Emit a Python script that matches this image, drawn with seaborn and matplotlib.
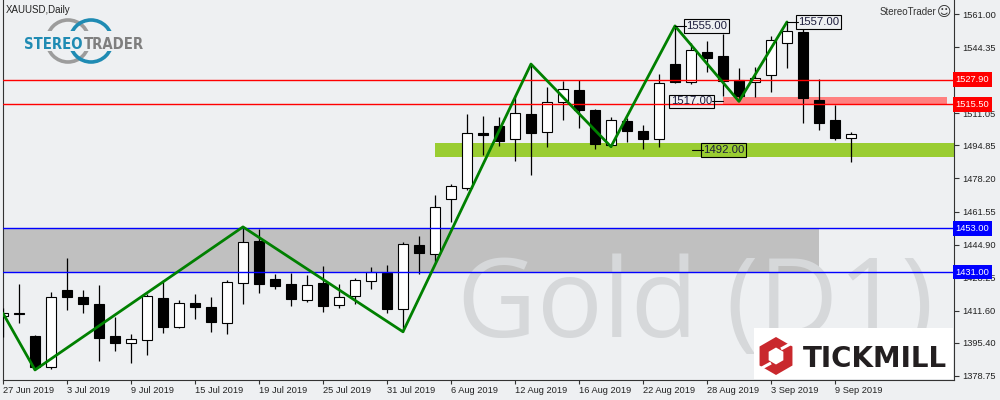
import matplotlib
matplotlib.use("Agg")
import matplotlib.pyplot as plt
import matplotlib.transforms as mtransforms
from matplotlib.patches import Rectangle, Circle, RegularPolygon
from matplotlib import font_manager
from matplotlib.font_manager import FontProperties
import numpy as np
import pandas as pd
import seaborn as sns

# ---------------- data ----------------
tick_idx = [0, 4, 8, 12, 16, 20, 24, 28, 32, 36, 40, 44, 48, 52]
tick_labels = ["27 Jun 2019", "3 Jul 2019", "9 Jul 2019", "15 Jul 2019", "19 Jul 2019",
               "25 Jul 2019", "31 Jul 2019", "6 Aug 2019", "12 Aug 2019", "16 Aug 2019",
               "22 Aug 2019", "28 Aug 2019", "3 Sep 2019", "9 Sep 2019"]

opens = [1409.1, 1410.4, 1398.9, 1383.1, 1422.0, 1418.4, 1415.0, 1398.9, 1395.2, 1396.7,
         1417.9, 1403.3, 1415.6, 1413.3, 1405.3, 1425.4, 1446.9, 1427.6, 1425.1, 1416.8,
         1425.6, 1414.3, 1418.9, 1426.4, 1430.7, 1412.3, 1444.7, 1440.0, 1467.7, 1473.2,
         1501.0, 1504.6, 1497.9, 1510.7, 1501.4, 1516.5, 1522.7, 1512.7, 1495.2, 1507.3,
         1502.1, 1497.9, 1535.8, 1526.9, 1541.9, 1539.9, 1527.8, 1526.6, 1530.1, 1546.2,
         1551.8, 1517.7, 1507.6, 1498.4]
highs = [1413.0, 1425.1, 1399.2, 1420.9, 1438.1, 1422.0, 1424.6, 1408.3, 1399.9, 1420.0,
         1427.1, 1417.0, 1420.0, 1418.7, 1427.1, 1453.8, 1452.5, 1430.1, 1430.7, 1429.6,
         1434.1, 1424.9, 1427.9, 1433.8, 1434.6, 1446.1, 1449.2, 1469.9, 1475.4, 1510.7,
         1509.6, 1509.3, 1520.2, 1535.8, 1524.4, 1527.3, 1527.8, 1513.2, 1509.3, 1508.8,
         1505.1, 1530.8, 1555.0, 1546.2, 1547.4, 1550.9, 1534.0, 1534.2, 1549.9, 1557.0,
         1553.4, 1528.1, 1515.2, 1501.6]
lows = [1398.4, 1405.6, 1381.8, 1382.5, 1412.0, 1410.3, 1386.4, 1391.5, 1385.4, 1389.3,
        1400.5, 1402.8, 1407.4, 1401.0, 1399.9, 1414.8, 1420.4, 1422.4, 1414.1, 1416.1,
        1411.1, 1413.1, 1414.8, 1422.4, 1410.3, 1401.0, 1430.1, 1436.3, 1456.4, 1472.4,
        1490.0, 1494.5, 1487.1, 1479.9, 1494.2, 1507.6, 1503.8, 1493.0, 1494.2, 1496.7,
        1492.9, 1493.9, 1526.5, 1525.8, 1532.0, 1519.7, 1517.0, 1519.4, 1521.9, 1534.0,
        1506.3, 1502.6, 1497.6, 1486.6]
closes = [1410.3, 1409.9, 1383.1, 1418.4, 1418.4, 1415.1, 1398.0, 1395.2, 1397.2, 1419.0,
          1403.6, 1415.3, 1413.6, 1405.8, 1425.9, 1446.0, 1424.9, 1424.2, 1417.4, 1424.4,
          1414.1, 1418.4, 1426.9, 1431.0, 1412.6, 1445.2, 1440.8, 1463.7, 1474.4, 1500.9,
          1500.3, 1497.2, 1511.0, 1501.2, 1516.5, 1523.1, 1512.7, 1495.5, 1507.6, 1502.2,
          1497.9, 1526.1, 1526.9, 1542.9, 1539.0, 1527.4, 1519.7, 1528.9, 1547.9, 1552.4,
          1518.9, 1506.3, 1498.7, 1500.4]

price_ticks = [1561.00, 1544.35, 1511.05, 1494.85, 1478.20, 1461.55,
               1444.90, 1428.25, 1411.60, 1395.40, 1378.75]

zigzag_idx = [0, 2, 15, 25, 33, 38, 42, 46, 49]
zigzag_price = [1410.3, 1381.8, 1453.8, 1401.0, 1535.8, 1494.2, 1555.0, 1517.0, 1557.0]

red_levels = [1527.90, 1515.50]
blue_levels = [1453.00, 1431.00]
grey_zone = [1431.0, 1453.0]
grey_zone_end = 51
green_zone = [1489.2, 1496.2]
green_zone_start = 27
pink_zone = [1515.5, 1519.1]
pink_zone_span = [45, 59]

pivot_labels = ["1555.00", "1557.00", "1517.00", "1492.00"]
pivot_idx = [42, 49, 45, 43.06]
pivot_price = [1555.0, 1557.0, 1517.0, 1492.5]
pivot_side = [1, 1, -1, 1]

# ---------------- style ----------------
BG = "#eef0f2"
sns.set_theme(style="white", rc={"figure.facecolor": BG, "axes.facecolor": BG,
                                 "axes.edgecolor": "#333333"})
avail = {f.name for f in font_manager.fontManager.ttflist}
base_font = "Liberation Sans" if "Liberation Sans" in avail else "DejaVu Sans"
plt.rcParams["font.family"] = [base_font, "DejaVu Sans"]
wm_font = "Open Sans" if "Open Sans" in avail else "DejaVu Sans"

# condensed bold font for the StereoTrader logo, if one is installed
cond_path = None
for key in ["LiberationSansNarrow-Bold", "DejaVuSansCondensed-Bold", "RobotoCondensed-Bold",
            "OpenSans_Condensed-Bold", "OpenSansCondensed-Bold"]:
    for f in font_manager.fontManager.ttflist:
        if key.lower() in f.fname.replace(" ", "").lower():
            cond_path = f.fname
            break
    if cond_path:
        break
if cond_path:
    logo_fp = FontProperties(fname=cond_path, size=10.6)
else:
    logo_fp = FontProperties(family=base_font, weight="bold", size=9.5)

df = pd.DataFrame({"idx": np.arange(len(opens)), "open": opens, "high": highs,
                   "low": lows, "close": closes})
df["bottom"] = df[["open", "close"]].min(axis=1)
df["height"] = (df["close"] - df["open"]).abs().clip(lower=0.7)
df["up"] = df["close"] > df["open"]

fig = plt.figure(figsize=(10, 4), dpi=100)
ax = fig.add_axes([2.5 / 1000, 20.5 / 400, 951.5 / 1000, 379.5 / 400])
ax.set_xlim(-0.03, 59.44)
ax.set_ylim(1376.97, 1568.05)

# zones
ax.add_patch(Rectangle((-1, grey_zone[0]), grey_zone_end + 1, grey_zone[1] - grey_zone[0],
                       facecolor="#c0c0c0", edgecolor="none", zorder=1))
ax.add_patch(Rectangle((green_zone_start, green_zone[0]), 40, green_zone[1] - green_zone[0],
                       facecolor="#9acd32", edgecolor="none", zorder=1))
ax.add_patch(Rectangle((pink_zone_span[0], pink_zone[0]), pink_zone_span[1] - pink_zone_span[0],
                       pink_zone[1] - pink_zone[0], facecolor="#ff8080", edgecolor="none", zorder=1))

# watermark
ax.text(0.4777, 0.112, "Gold (D1)", transform=ax.transAxes, fontsize=79, family=wm_font,
        color="#d6d8da", ha="left", va="baseline", zorder=1.5, clip_on=True)

# candles
ax.vlines(df["idx"], df["low"], df["high"], color="black", lw=0.9, zorder=4)
colors = ["white" if u else "black" for u in df["up"]]
ax.bar(df["idx"], df["height"], bottom=df["bottom"], width=0.68, color=colors,
       edgecolor="black", linewidth=0.8, zorder=5)

# level lines
for lv in red_levels:
    ax.axhline(lv, color="#ff0000", lw=1, zorder=6)
for lv in blue_levels:
    ax.axhline(lv, color="#0000ff", lw=1, zorder=6)

# zigzag
sns.lineplot(x=zigzag_idx, y=zigzag_price, ax=ax, color="#008000", lw=2, zorder=7,
             estimator=None)

# pivot labels
for lab, xi, pr, side in zip(pivot_labels, pivot_idx, pivot_price, pivot_side):
    x1 = xi + side * 0.69
    ax.plot([xi, x1], [pr, pr], color="black", lw=0.8, zorder=8)
    ax.text(x1, pr, lab, ha="left" if side > 0 else "right", va="center", fontsize=8.2,
            color="#1c1c3c", zorder=9,
            bbox=dict(boxstyle="square,pad=0.15", facecolor="none", edgecolor="black", lw=0.8))

# axes styling
ax.spines["top"].set_visible(False)
for s in ["left", "bottom", "right"]:
    ax.spines[s].set_linewidth(0.8)
ax.yaxis.tick_right()
ax.set_yticks(price_ticks)
ax.set_yticklabels([f"{p:.2f}" for p in price_ticks])
ax.set_xticks(tick_idx)
ax.set_xticklabels(tick_labels)
for t in ax.get_xticklabels():
    t.set_ha("left")
ax.tick_params(axis="y", right=True, left=False, direction="out", length=3.5, width=0.8,
               color="#333333", labelsize=6.7, labelcolor="#222222", pad=2.5)
ax.tick_params(axis="x", bottom=True, direction="out", length=3, width=0.8,
               color="#333333", labelsize=6.7, labelcolor="#222222", pad=2)
ax.set_xlabel("")
ax.set_ylabel("")
ax.grid(False)

# coloured price labels on axis
trans = mtransforms.blended_transform_factory(ax.transAxes, ax.transData)
for lv in red_levels:
    ax.text(1.0015, lv, f"{lv:.2f}", transform=trans, ha="left", va="center", fontsize=6.7,
            color="white", zorder=10, clip_on=False,
            bbox=dict(boxstyle="square,pad=0.3", facecolor="#ff0000", edgecolor="none"))
for lv in blue_levels:
    ax.text(1.0015, lv, f"{lv:.2f}", transform=trans, ha="left", va="center", fontsize=6.7,
            color="white", zorder=10, clip_on=False,
            bbox=dict(boxstyle="square,pad=0.3", facecolor="#0000ff", edgecolor="none"))

# ---------------- overlay (logos / captions) ----------------
ov = fig.add_axes([0, 0, 1, 1], zorder=20)
ov.set_xlim(0, 1000)
ov.set_ylim(400, 0)
ov.axis("off")
ov.patch.set_alpha(0)

ov.text(6, 10, "XAUUSD,Daily", fontsize=7, color="#222222", va="center", ha="left")
ov.text(936, 12, "StereoTrader", fontsize=7, color="#333333", va="center", ha="right")
ov.text(944, 12, "\u263A", fontsize=10, color="#333333", va="center", ha="center",
        family="DejaVu Sans")

# StereoTrader logo
ov.add_patch(Circle((68, 41), 21, fill=False, edgecolor="#9c9c9c", lw=2.6))
ov.add_patch(Circle((91, 41), 21, fill=False, edgecolor="#1f8bb3", lw=2.6))
ov.add_patch(Rectangle((26, 31), 114, 20, facecolor=BG, edgecolor="none"))
ov.text(82.5, 49, "STEREO", fontproperties=logo_fp,
        color="#1f8bb3", ha="right", va="baseline")
ov.text(83.5, 49, "TRADER", fontproperties=logo_fp,
        color="#7f7f7f", ha="left", va="baseline")

# Tickmill logo
ov.add_patch(Rectangle((754, 327.5), 199, 51, facecolor="white", edgecolor="none"))
ov.add_patch(RegularPolygon((776, 356), 6, radius=19, orientation=0,
                            facecolor="#c9282d", edgecolor="none"))
ov.add_patch(RegularPolygon((776, 356), 6, radius=8.5, orientation=0,
                            facecolor="white", edgecolor="none"))
ov.plot([781, 792], [349, 343], color="white", lw=2.2, solid_capstyle="butt")
ov.plot([760, 771], [369, 363], color="white", lw=2.2, solid_capstyle="butt")
ov.text(803, 366.7, "TICKMILL", fontsize=20, family="DejaVu Sans", weight="bold",
        color="#231f20", ha="left", va="baseline")

fig.savefig("out.png", dpi=100, facecolor=BG)
